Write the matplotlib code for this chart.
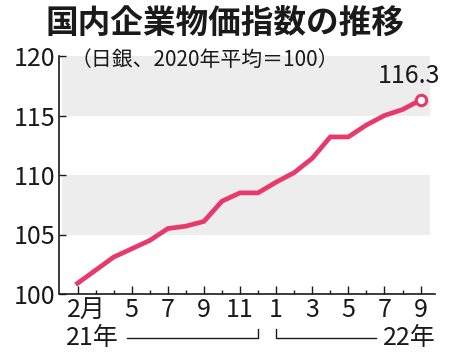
import matplotlib
matplotlib.use("Agg")
import matplotlib.pyplot as plt
import matplotlib.transforms as mtransforms

plt.rcParams['font.family'] = ['Noto Sans CJK JP', 'DejaVu Sans']

# ---- data ----
title = "国内企業物価指数の推移"
subtitle = "（日銀、2020年平均＝100）"
months = ["2021-02", "2021-03", "2021-04", "2021-05", "2021-06", "2021-07",
          "2021-08", "2021-09", "2021-10", "2021-11", "2021-12", "2022-01",
          "2022-02", "2022-03", "2022-04", "2022-05", "2022-06", "2022-07",
          "2022-08", "2022-09"]
values = [100.9, 102.0, 103.1, 103.8, 104.5, 105.5, 105.7, 106.1, 107.8, 108.5,
          108.5, 109.4, 110.2, 111.4, 113.2, 113.2, 114.2, 115.0, 115.5, 116.3]
tick_months = ["2021-02", "2021-05", "2021-07", "2021-09", "2021-11",
               "2022-01", "2022-03", "2022-05", "2022-07", "2022-09"]
tick_labels = ["2月", "5", "7", "9", "11", "1", "3", "5", "7", "9"]
yticks = [100, 105, 110, 115, 120]
bands = [(105, 110), (115, 120)]
year_labels = ["21年", "22年"]
last_label = "116.3"

LINE = "#E8396A"
BAND = "#EDEDED"
INK = "#1a1a1a"
FS = 18

x = list(range(len(months)))

fig = plt.figure(figsize=(4.5, 3.58), dpi=100)
ax = fig.add_axes([59.5 / 450, 64 / 358, 375.5 / 450, 238 / 358])

ax.set_xlim(-1, 19.8)
ax.set_ylim(100, 120)

for lo, hi in bands:
    ax.fill_between([-0.85, 19.5], lo, hi, color=BAND, lw=0, zorder=0)

ax.plot(x, values, color=LINE, lw=3.4, solid_joinstyle='miter', zorder=3)
ax.plot(x[-1], values[-1], 'o', ms=7.5, mfc='white', mec=LINE, mew=2.2, zorder=4)
ax.annotate(last_label, (x[-1], values[-1]), xytext=(-8, 17),
            textcoords='offset points', ha='center', va='center', fontsize=FS,
            color=INK)

for s in ['top', 'right']:
    ax.spines[s].set_visible(False)
for s in ['left', 'bottom']:
    ax.spines[s].set_linewidth(1.2)
    ax.spines[s].set_color(INK)

ax.set_yticks(yticks)
ax.set_yticklabels([str(v) for v in yticks])
ax.tick_params(axis='y', direction='in', length=5, width=1, pad=3, labelsize=FS,
               colors=INK)

tick_pos = [months.index(m) for m in tick_months]
minor_pos = [i for i in x if i not in tick_pos]
ax.set_xticks(tick_pos)
ax.set_xticklabels(tick_labels)
ax.set_xticks(minor_pos, minor=True)
ax.tick_params(axis='x', which='major', direction='in', length=6, width=1, pad=2,
               labelsize=FS, colors=INK)
ax.tick_params(axis='x', which='minor', direction='in', length=3, width=1,
               colors=INK)
# shift "2月" so that the numeral sits on its tick
lab0 = ax.get_xticklabels()[0]
lab0.set_transform(lab0.get_transform() +
                   mtransforms.ScaledTranslation(9 / 100, 0, fig.dpi_scale_trans))

# year brackets
trans = mtransforms.blended_transform_factory(ax.transData, ax.transAxes)
yb = -0.185
yb_top = yb + 0.04
ax.text(-0.65, yb, year_labels[0], transform=trans, ha='left', va='center',
        fontsize=FS, clip_on=False, color=INK)
ax.text(19.85, yb, year_labels[1], transform=trans, ha='right', va='center',
        fontsize=FS, clip_on=False, color=INK)
ax.plot([2.75, months.index("2021-12"), months.index("2021-12")],
        [yb, yb, yb_top], transform=trans, color=INK, lw=1, clip_on=False)
ax.plot([months.index("2022-01"), months.index("2022-01"), 16.55],
        [yb_top, yb, yb], transform=trans, color=INK, lw=1, clip_on=False)

fig.text(0.5, 1 - 23 / 358, title, ha='center', va='center', fontsize=23.5,
         fontweight='bold', color=INK)
ax.text(0.03, 1 - 4 / 238, subtitle, transform=ax.transAxes, ha='left',
        va='center', fontsize=15, color=INK)

fig.savefig("out.png", dpi=100)
